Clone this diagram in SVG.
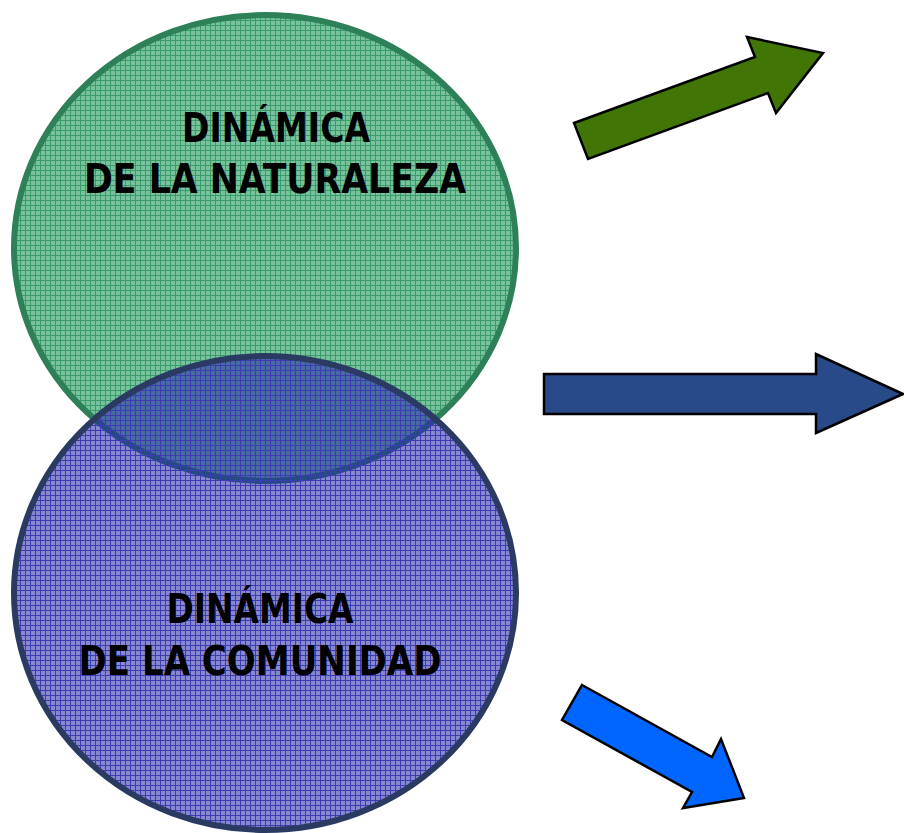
<svg xmlns="http://www.w3.org/2000/svg" width="904" height="833" viewBox="0 0 904 833">
<defs>
<pattern id="pg" width="5" height="5" patternUnits="userSpaceOnUse">
<rect width="5" height="5" fill="#78c29e"/>
<path d="M0 0.5H5M0.5 0V5" stroke="#3a9a6a" stroke-width="1"/>
</pattern>
<pattern id="pb" width="5" height="5" patternUnits="userSpaceOnUse">
<rect width="5" height="5" fill="#1a1ba5" fill-opacity="0.52"/>
<path d="M0 0.5H5M0.5 0V5" stroke="#3c3cb0" stroke-width="1"/>
</pattern>
</defs>
<style>
.lbl{font-family:"Liberation Sans Narrow","DejaVu Sans Condensed","Liberation Sans",sans-serif;font-size:41px;font-weight:bold;fill:#000;text-anchor:middle}
.arr{stroke:#000;stroke-width:2.5;stroke-linejoin:miter}
</style>
<g id="naturaleza">
<ellipse cx="265" cy="248" rx="251" ry="233" fill="url(#pg)" stroke="#2e8059" stroke-width="6"/>
<text class="lbl" x="276" y="142" textLength="188" lengthAdjust="spacingAndGlyphs">DINÁMICA</text>
<text class="lbl" x="275" y="193" textLength="382" lengthAdjust="spacingAndGlyphs">DE LA NATURALEZA</text>
</g>
<g id="comunidad">
<ellipse cx="265" cy="593" rx="251" ry="237" fill="url(#pb)" stroke="#2a3a62" stroke-width="6"/>
<text class="lbl" x="260" y="623" textLength="187" lengthAdjust="spacingAndGlyphs">DINÁMICA</text>
<text class="lbl" x="260" y="675" textLength="363" lengthAdjust="spacingAndGlyphs">DE LA COMUNIDAD</text>
</g>
<g id="connectors">
<polygon class="arr" fill="#417505" points="574,123 755,57 747,37 823,53 776,113 768,93 588,159"/>
<polygon class="arr" fill="#294a88" points="544,374 816,374 816,354 903,394 816,433 816,414 544,414"/>
<polygon class="arr" fill="#0066ff" points="582,685 712,757 721,739 744,798 683,808 692,792 562,720"/>
</g>
</svg>
